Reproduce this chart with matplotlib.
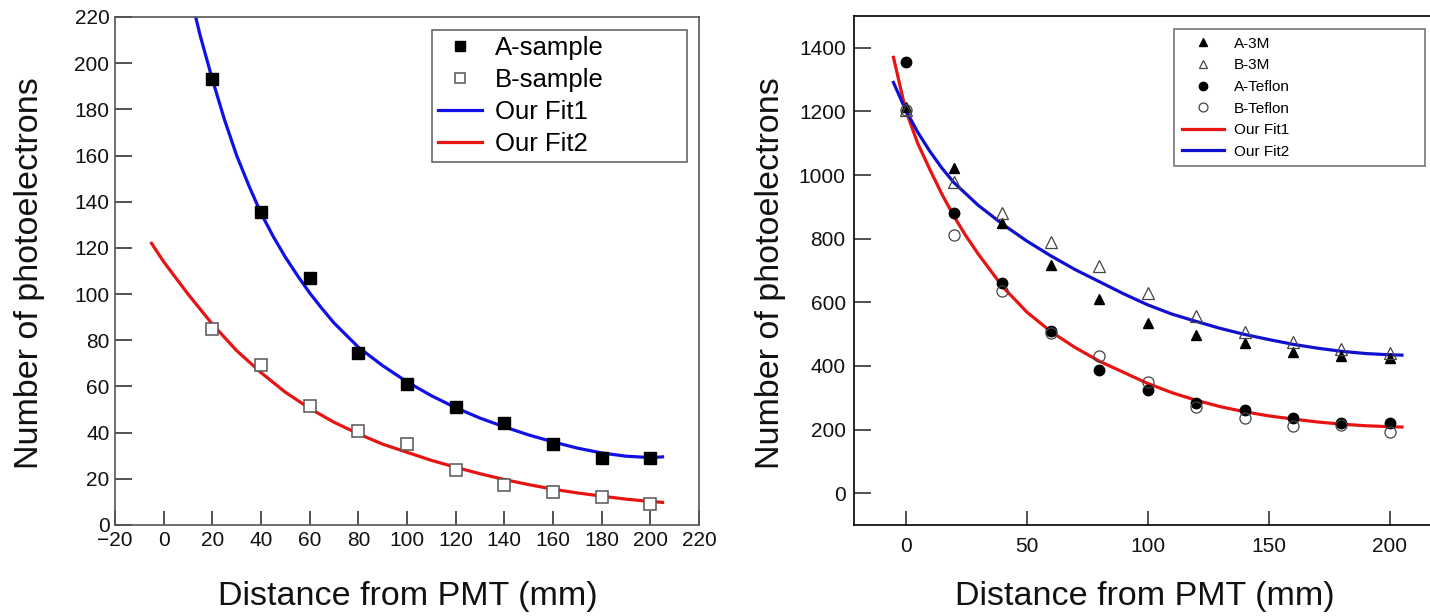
"""
Photoelectron yield vs. distance from PMT: two-panel comparison figure.

Outputs:
    out.png
"""

import matplotlib
matplotlib.use("Agg")
import matplotlib.pyplot as plt

plt.rcParams["font.family"] = ["Liberation Sans", "DejaVu Sans"]

# ---------------------------------------------------------------------------
# Data — left panel (A/B samples)
# ---------------------------------------------------------------------------
dist = [20, 40, 60, 80, 100, 120, 140, 160, 180, 200]
a_sample = [193, 135.5, 107, 74.5, 61, 51, 44, 35, 29, 29]
b_sample = [85, 69.5, 51.5, 40.5, 35, 24, 17.5, 14.5, 12, 9]

# fit curves
fit1_x = [12, 15, 20, 25, 30, 35, 40, 45, 50, 55, 60, 65, 70, 80, 90, 100,
          110, 120, 130, 140, 150, 160, 170, 180, 190, 200, 205]
fit1_y = [225, 212, 193, 175.5, 160, 147, 135, 125, 116, 108, 100.5, 93.8,
          87.5, 77, 69, 62, 56, 50.8, 46.3, 42.5, 39, 36, 33.3, 31.2, 29.8,
          29.2, 29.5]
fit2_x = [-5, 0, 10, 20, 30, 40, 50, 60, 70, 80, 90, 100, 110, 120, 130, 140,
          150, 160, 170, 180, 190, 200, 205]
fit2_y = [122, 114, 100, 87, 75.5, 66, 57.5, 50.5, 44.5, 39.5, 35, 31.5, 28,
          25, 22.2, 19.7, 17.5, 15.5, 13.9, 12.5, 11.2, 10.2, 9.8]

# ---------------------------------------------------------------------------
# Data — right panel (3M / Teflon wrapping)
# ---------------------------------------------------------------------------
dist_r = [0, 20, 40, 60, 80, 100, 120, 140, 160, 180, 200]
a_3m = [1215, 1021, 848, 717, 611, 534, 496, 471, 444, 430, 424]
b_3m = [1205, 979, 880, 791, 714, 630, 556, 506, 476, 453, 441]
a_teflon = [1355, 881, 662, 509, 388, 324, 284, 262, 237, 221, 221]
b_teflon = [1203, 812, 634, 505, 430, 349, 272, 237, 211, 214, 193]

rfit1_x = [-5, 0, 5, 10, 15, 20, 25, 30, 40, 50, 60, 70, 80, 90, 100, 110,
           120, 130, 140, 150, 160, 170, 180, 190, 200, 205]
rfit1_y = [1370, 1205, 1100, 1018, 940, 870, 808, 752, 650, 570, 508, 458,
           415, 380, 345, 316, 292, 272, 256, 243, 233, 224, 217, 212, 209, 208]
rfit2_x = [-5, 0, 5, 10, 15, 20, 30, 40, 50, 60, 70, 80, 90, 100, 110, 120,
           130, 140, 150, 160, 170, 180, 190, 200, 205]
rfit2_y = [1291, 1205, 1135, 1075, 1022, 976, 905, 846, 793, 746, 703, 665,
           627, 592, 563, 540, 518, 499, 483, 468, 456, 446, 439, 435, 434]

# ---------------------------------------------------------------------------
# Figure
# ---------------------------------------------------------------------------
fig = plt.figure(figsize=(14.3, 6.16), dpi=100)
W, H = 1430, 616


def px_axes(left, top, right, bottom):
    return fig.add_axes([left / W, 1 - bottom / H, (right - left) / W, (bottom - top) / H])


def style_axes(ax, spine_color):
    for s in ax.spines.values():
        s.set_color(spine_color)
        s.set_linewidth(1.2)
    ax.tick_params(axis="both", direction="in", labelsize=15, colors="#222222",
                   top=False, right=False, width=1.1)
    ax.tick_params(axis="x", length=10, pad=4)
    ax.tick_params(axis="y", length=12, pad=4)
    for lab in ax.get_xticklabels() + ax.get_yticklabels():
        lab.set_color("#111111")


# --- Left panel ---
ax1 = px_axes(115, 17, 699, 525)
ax1.plot(fit1_x, fit1_y, color="#1010e8", lw=2.3, label="Our Fit1", zorder=2)
ax1.plot(fit2_x, fit2_y, color="#e81414", lw=2.3, label="Our Fit2", zorder=2)
ax1.plot(dist, a_sample, ls="none", marker="s", ms=8, color="black",
         label="A-sample", zorder=3)
ax1.plot(dist, b_sample, ls="none", marker="s", ms=8, mfc="white",
         mec="#555555", mew=1.1, label="B-sample", zorder=3)
ax1.set_xlim(-20, 220)
ax1.set_ylim(0, 220)
ax1.set_xticks(range(-20, 221, 20))
ax1.set_yticks(range(0, 221, 20))
ax1.set_xticklabels(["\u221220"] + [str(v) for v in range(0, 221, 20)])
style_axes(ax1, "#555555")

h, l = ax1.get_legend_handles_labels()
order = [2, 3, 0, 1]
leg1 = ax1.legend([h[i] for i in order], [l[i] for i in order],
                  loc="upper left", mode="expand",
                  bbox_to_anchor=(432 / W, 1 - 30 / H, 255 / W, 0),
                  bbox_transform=fig.transFigure, borderaxespad=0,
                  fontsize=18.5, fancybox=False, framealpha=1,
                  edgecolor="#666666", handlelength=1.7, handletextpad=0.5,
                  borderpad=0.25, labelspacing=0.3, markerscale=0.85)
leg1.get_frame().set_linewidth(1.2)

# --- Right panel ---
ax2 = px_axes(854, 16, 1430, 525)
ax2.plot(rfit1_x, rfit1_y, color="#e81414", lw=2.3, label="Our Fit1", zorder=2)
ax2.plot(rfit2_x, rfit2_y, color="#1010d0", lw=2.3, label="Our Fit2", zorder=2)
ax2.plot(dist_r, a_3m, ls="none", marker="^", ms=7, color="black",
         label="A-3M", zorder=3)
ax2.plot(dist_r, b_3m, ls="none", marker="^", ms=8, mfc="none",
         mec="#444444", mew=0.9, label="B-3M", zorder=3)
ax2.plot(dist_r, a_teflon, ls="none", marker="o", ms=7.5, color="black",
         label="A-Teflon", zorder=3)
ax2.plot(dist_r, b_teflon, ls="none", marker="o", ms=8, mfc="none",
         mec="#444444", mew=0.9, label="B-Teflon", zorder=3)
ax2.set_xlim(-21.3, 216.6)
ax2.set_ylim(-100, 1500)
ax2.set_xticks([0, 50, 100, 150, 200])
ax2.set_yticks(range(0, 1401, 200))
style_axes(ax2, "black")
ax2.spines["right"].set_visible(False)
ax2.tick_params(axis="x", pad=9)
ax2.tick_params(axis="y", pad=6)

h, l = ax2.get_legend_handles_labels()
order = [2, 3, 4, 5, 0, 1]
leg2 = ax2.legend([h[i] for i in order], [l[i] for i in order],
                  loc="upper left", mode="expand",
                  bbox_to_anchor=(1174 / W, 1 - 29 / H, 251 / W, 0),
                  bbox_transform=fig.transFigure, borderaxespad=0,
                  fontsize=11, fancybox=False, framealpha=1,
                  edgecolor="#777777", handlelength=2.8, handletextpad=0.6,
                  borderpad=0.5, labelspacing=0.5, markerscale=0.8)
leg2.get_frame().set_linewidth(1.2)

# --- Axis titles ---
for xc in (408, 1145):
    fig.text(xc / W, 1 - 597 / H, "Distance from PMT (mm)", fontsize=24.5,
             ha="center", va="center", color="#111111")
for xc in (30, 770):
    fig.text(xc / W, 1 - 273 / H, "Number of photoelectrons", fontsize=24.5,
             rotation=90, ha="center", va="center", color="#111111")

fig.savefig("out.png", dpi=100)
